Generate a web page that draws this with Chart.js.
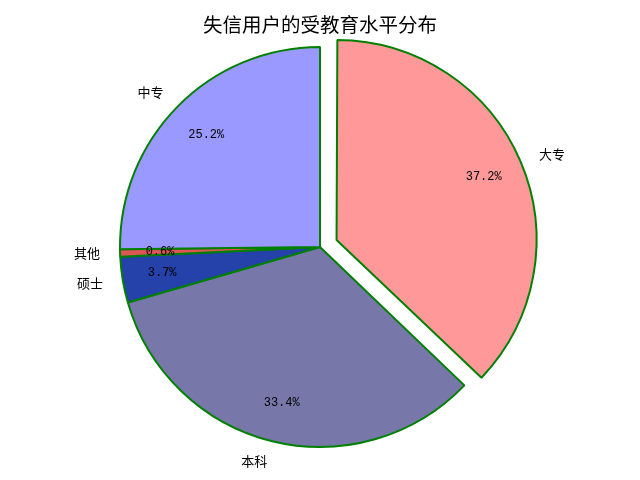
<!DOCTYPE html>
<html>
<head>
<meta charset="utf-8">
<script src="https://cdn.jsdelivr.net/npm/chart.js@4/dist/chart.umd.min.js"></script>
<style>
  html, body { margin: 0; padding: 0; background: #fff; }
  #box { width: 640px; height: 480px; }
</style>
</head>
<body>
<div id="box"><canvas id="pie" width="640" height="480"></canvas></div>
<script>
// data, in drawing order (clockwise from 12 o'clock)
let categories = ["大专", "本科", "硕士", "其他", "中专"];
let shares = [37.2, 33.4, 3.7, 0.6, 25.2];
let sliceColors = ["#ff9999", "#7777aa", "#2442aa", "#dd5555", "#9999ff"];
let explode = [18, 0, 0, 0, 0]; // pixels the slice is pulled out
let chartTitle = "失信用户的受教育水平分布";

const R = 200;
const CJK = '"Noto Sans CJK SC", "Noto Sans", sans-serif';

// chart.js arc moves by offset/4, so hand it 4x
let arcOffsets = explode.map(e => e * 4);

// chart.js also grows a pulled-out arc a little; take that back so all slices share R
let sameRadius = {
  id: "sameRadius",
  afterUpdate(chart) {
    let meta = chart.getDatasetMeta(0);
    meta.data.forEach((arc, i) => {
      let circ = arc.endAngle - arc.startAngle;
      let fix = 1 - Math.sin(Math.min(Math.PI, circ));
      arc.outerRadius = R - explode[i] * fix;
    });
  }
};

let labelPlugin = {
  id: "pieLabels",
  afterDatasetsDraw(chart) {
    let ctx = chart.ctx;
    let meta = chart.getDatasetMeta(0);
    let total = shares.reduce((a, b) => a + b, 0);
    ctx.save();
    meta.data.forEach((arc, i) => {
      let p = arc.getProps(["x", "y", "startAngle", "endAngle"], true);
      let mid = (p.startAngle + p.endAngle) / 2;
      let cx = p.x + Math.cos(mid) * explode[i];
      let cy = p.y + Math.sin(mid) * explode[i];
      // category label
      ctx.fillStyle = "#000";
      ctx.font = "13px " + CJK;
      ctx.textBaseline = "middle";
      ctx.textAlign = Math.cos(mid) >= 0 ? "left" : "right";
      ctx.fillText(categories[i], cx + Math.cos(mid) * R * 1.1, cy + Math.sin(mid) * R * 1.1);
      // percentage
      ctx.font = '12px "Liberation Mono", "DejaVu Sans Mono", monospace';
      ctx.textAlign = "center";
      let pct = (shares[i] / total * 100).toFixed(1) + "%";
      ctx.fillText(pct, cx + Math.cos(mid) * R * 0.8, cy + Math.sin(mid) * R * 0.8);
    });
    // title
    ctx.font = "19.5px " + CJK;
    ctx.textAlign = "center";
    ctx.textBaseline = "middle";
    ctx.fillText(chartTitle, 320, 25);
    ctx.restore();
  }
};

let canvas = document.getElementById("pie");
let ctx = canvas.getContext("2d");
let chart = new Chart(ctx, {
  type: "pie",
  data: {
    labels: categories,
    datasets: [{
      data: shares,
      backgroundColor: sliceColors,
      borderColor: "#008000",
      borderWidth: 2,
      borderAlign: "center",
      offset: arcOffsets
    }]
  },
  options: {
    responsive: false,
    devicePixelRatio: 1,
    animation: false,
    radius: R,
    layout: { padding: { top: 14, bottom: 0, left: 0, right: 0 } },
    plugins: {
      legend: { display: false },
      tooltip: { enabled: false },
      title: { display: false }
    }
  },
  plugins: [sameRadius, labelPlugin]
});
</script>
</body>
</html>
